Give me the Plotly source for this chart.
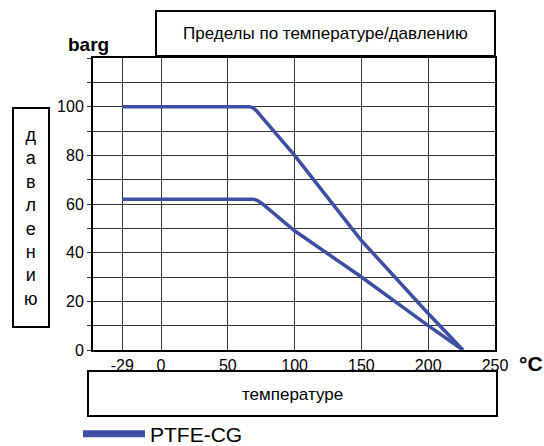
import plotly.graph_objects as go

# Data
temp_small = [-29, 66, 69, 72, 75, 100, 150, 200, 226]
pres_small = [100, 100, 99.5, 98, 96, 80, 45, 15, 0]
temp_large = [-29, 69, 72, 76, 100, 150, 200, 226]
pres_large = [62, 62, 61.5, 60, 49, 30, 10, 0]
x_ticks = [-29, 0, 50, 100, 150, 200, 250]
y_ticks = [0, 20, 40, 60, 80, 100]

LINE = "#3D4FA3"
FONT = "Liberation Sans, Arial, sans-serif"

FIG_W, FIG_H = 544, 446
# plot area in reference pixels: x 93..495, y 58..350
L, R, T, B = 93, 495, 58, 350
W, H = R - L, B - T
def px(x):
    return (x - L) / W
def py(y):
    return (B - y) / H

fig = go.Figure()
fig.add_trace(go.Scatter(x=temp_small, y=pres_small, mode="lines",
                         line=dict(color=LINE, width=3.5), name="PTFE-CG",
                         legendgroup="g", showlegend=False))
fig.add_trace(go.Scatter(x=temp_large, y=pres_large, mode="lines",
                         line=dict(color=LINE, width=3.5), name="PTFE-CG",
                         legendgroup="g", showlegend=False))
# legend key (thicker line, as in the reference legend)
fig.add_trace(go.Scatter(x=[None], y=[None], mode="lines",
                         line=dict(color=LINE, width=7), name="PTFE-CG",
                         legendgroup="g", showlegend=True))

shapes = [
    dict(type="rect", xref="paper", yref="paper", x0=px(156), x1=px(495), y0=py(56), y1=py(11),
         line=dict(color="black", width=2)),
    dict(type="rect", xref="paper", yref="paper", x0=px(88), x1=px(497), y0=py(416), y1=py(371),
         line=dict(color="black", width=2)),
    dict(type="rect", xref="paper", yref="paper", x0=px(13), x1=px(49), y0=py(327), y1=py(108),
         line=dict(color="black", width=2)),
]

def ann(text, x, y, size, xanchor="center"):
    return dict(text=text, xref="paper", yref="paper", x=px(x), y=py(y),
                xanchor=xanchor, yanchor="middle", showarrow=False,
                font=dict(size=size, color="black", family=FONT))

annotations = [
    ann("Пределы по температуре/давлению", 325, 34, 17),
    ann("температуре", 292, 394, 17),
    ann("<br>".join(list("давлению")), 31, 217, 18),
    ann("<b>barg</b>", 88, 45, 19),
    ann("<b>°C</b>", 545, 363, 21, xanchor="right"),
]

fig.update_layout(
    width=FIG_W, height=FIG_H,
    margin=dict(l=L, r=FIG_W - R, t=T, b=FIG_H - B, autoexpand=False),
    paper_bgcolor="white", plot_bgcolor="white",
    font=dict(family=FONT, size=16, color="black"),
    shapes=shapes, annotations=annotations,
    showlegend=True,
    legend=dict(x=px(78), y=py(434), xanchor="left", yanchor="middle",
                itemwidth=62, font=dict(size=21, color="black", family=FONT),
                bgcolor="rgba(0,0,0,0)"),
)
fig.update_xaxes(range=[-50.9, 250], tickvals=x_ticks, ticktext=[str(v) for v in x_ticks],
                 showgrid=True, gridcolor="#333", gridwidth=1, zeroline=False,
                 showline=True, linecolor="black", linewidth=2, mirror=True,
                 ticks="", tickfont=dict(size=16), fixedrange=True)
fig.update_yaxes(range=[0, 120], tickvals=y_ticks, showgrid=True, gridcolor="#333", gridwidth=1,
                 zeroline=False, showline=True, linecolor="black", linewidth=2, mirror=True,
                 ticks="outside", ticklen=4, tickcolor="#333",
                 minor=dict(dtick=10, showgrid=True, gridcolor="#333", gridwidth=1,
                            ticks="outside", ticklen=4, tickcolor="#333"),
                 tickfont=dict(size=16), fixedrange=True)

fig.write_html("out.html", config={"displayModeBar": False},
               post_script="document.body.style.margin='0';document.body.style.overflow='hidden';")
